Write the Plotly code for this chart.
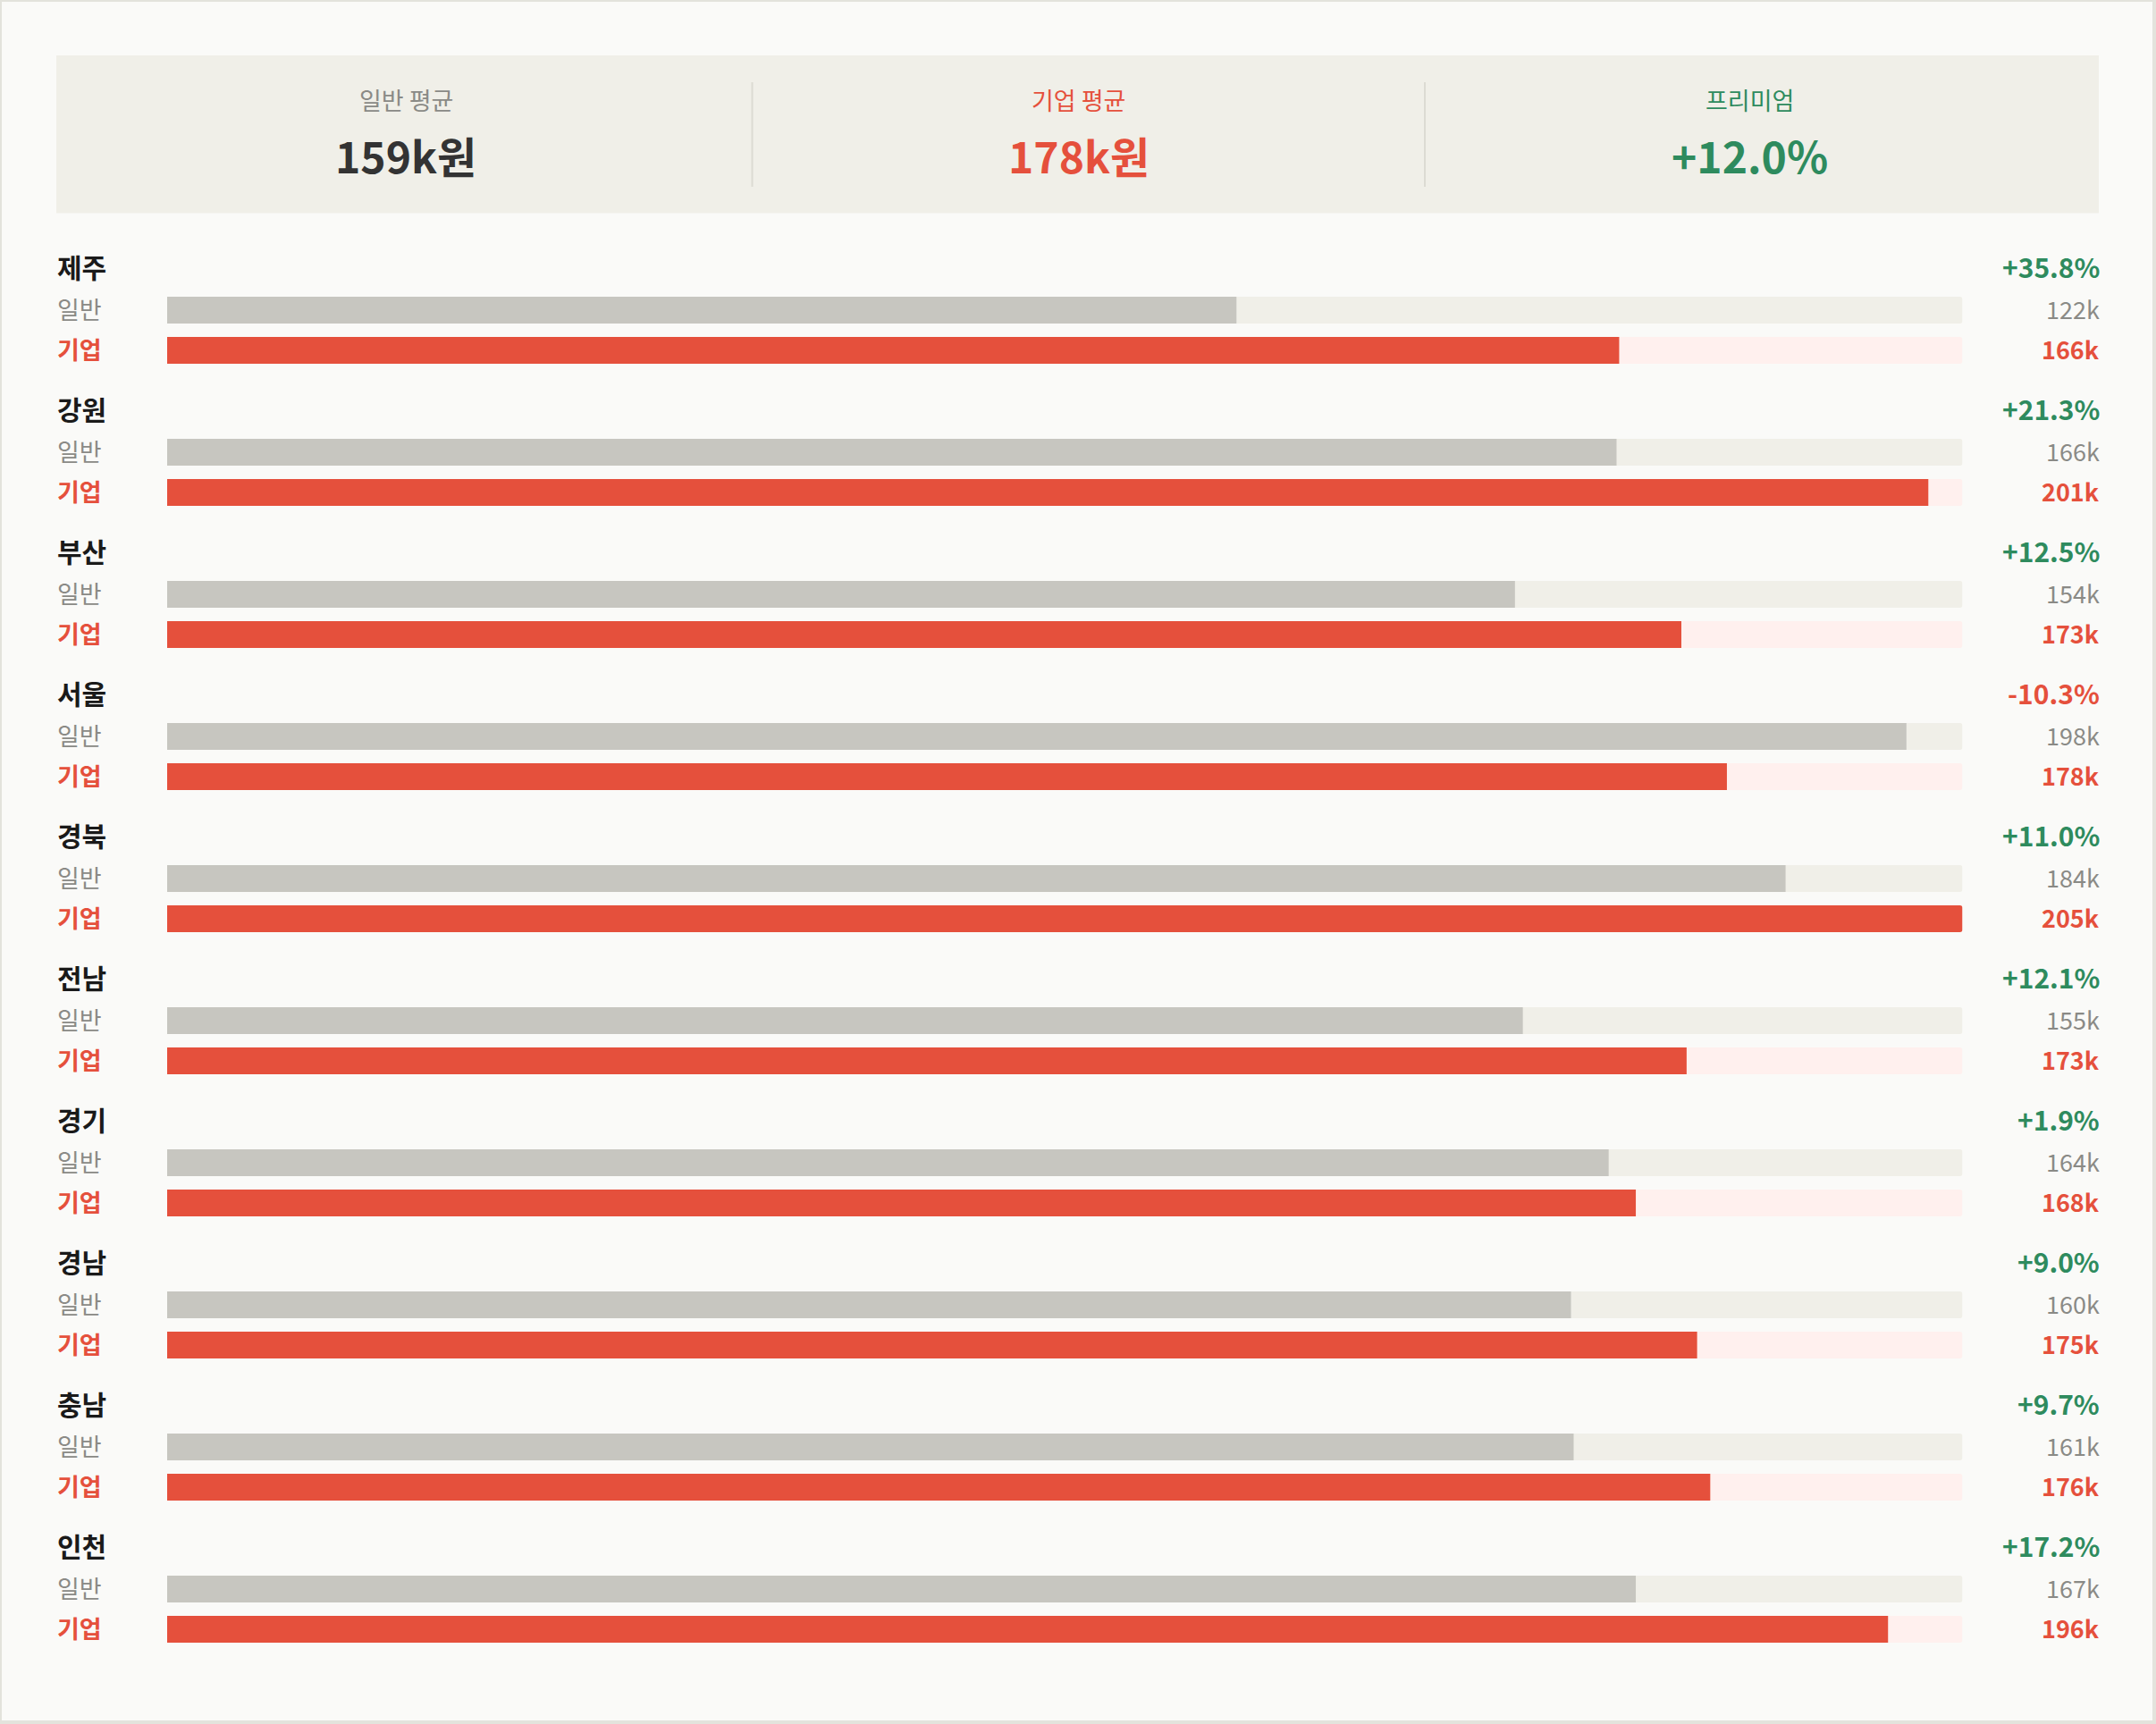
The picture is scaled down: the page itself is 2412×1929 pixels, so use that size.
import plotly.graph_objects as go

# ---------------- data ----------------
regions = ["제주", "강원", "부산", "서울", "경북", "전남", "경기", "경남", "충남", "인천"]
general = [122.1, 165.5, 153.9, 198.6, 184.8, 154.8, 164.6, 160.3, 160.6, 167.7]      # 일반 (k원)
corporate = [165.8, 201.1, 172.9, 178.1, 205.0, 173.5, 167.7, 174.7, 176.2, 196.5]    # 기업 (k원)
general_labels = ["122k", "166k", "154k", "198k", "184k", "155k", "164k", "160k", "161k", "167k"]
corporate_labels = ["166k", "201k", "173k", "178k", "205k", "173k", "168k", "175k", "176k", "196k"]
premium = [35.8, 21.3, 12.5, -10.3, 11.0, 12.1, 1.9, 9.0, 9.7, 17.2]  # %
avg_general = 159
avg_corporate = 178
avg_premium = 12.0

# ---------------- style / layout constants ----------------
W, H = 2412, 1929
FONT = "Noto Sans CJK KR"
BG = "#fafaf8"
BORDER = "#e3e3dc"
BOX = "#f0efe8"
DIVIDER = "#dcdbd3"
GRAY_BAR = "#c7c6c0"
GRAY_TRACK = "#f0efe8"
RED = "#e5503c"
RED_TRACK = "#fff0ee"
GREEN = "#2e8b5e"
GRAY_TXT = "#8a8a86"
DARK = "#1a1a1a"

ROW0, ROW_H = 300, 159
OFF_G, OFF_C, BAR_H = 47, 92, 30
TRACK_L, TRACK_R = 187, 2195.5
LEFT_X, RIGHT_X = 63, 2348

n = len(regions)
scale_max = max(general + corporate)
y_name = list(range(n))
y_gen = [i + OFF_G / ROW_H for i in range(n)]
y_corp = [i + OFF_C / ROW_H for i in range(n)]
bw = BAR_H / ROW_H


def px(x):
    return x / W


def py(y):
    return 1 - y / H


fig = go.Figure()


def bars(vals, ys, color):
    fig.add_trace(go.Bar(
        x=vals, y=ys, orientation="h", width=[bw] * len(vals),
        marker=dict(color=color, line=dict(width=0)),
        hoverinfo="skip", showlegend=False,
    ))


bars([scale_max] * n, y_gen, GRAY_TRACK)
bars([scale_max] * n, y_corp, RED_TRACK)
bars(general, y_gen, GRAY_BAR)
bars(corporate, y_corp, RED)

ann = []


def text(x, y, s, size, color, weight=400, xanchor="left", yref="y", yshift=2):
    xs = {"left": -1, "right": 3, "center": 0}[xanchor]
    ann.append(dict(
        x=x, y=y, xref="paper", yref=yref, text=s, showarrow=False,
        xanchor=xanchor, yanchor="middle", xshift=xs, yshift=yshift,
        font=dict(family=FONT, size=size, color=color, weight=weight),
    ))


for i, r in enumerate(regions):
    text(px(LEFT_X), y_name[i], r, 30, DARK, 700)
    text(px(LEFT_X), y_gen[i], "일반", 27, GRAY_TXT, 400)
    text(px(LEFT_X), y_corp[i], "기업", 27, RED, 700)
    p = premium[i]
    text(px(RIGHT_X), y_name[i], f"{p:+.1f}%", 30, GREEN if p >= 0 else RED, 700, "right")
    text(px(RIGHT_X), y_gen[i], general_labels[i], 27, GRAY_TXT, 400, "right")
    text(px(RIGHT_X), y_corp[i], corporate_labels[i], 27, RED, 700, "right")

# header summary
cols = [
    (454, "일반 평균", f"{avg_general}k원", GRAY_TXT, "#333333"),
    (1206.5, "기업 평균", f"{avg_corporate}k원", RED, RED),
    (1957, "프리미엄", f"{avg_premium:+.1f}%", GREEN, GREEN),
]
for cx, lab, val, lc, vc in cols:
    text(px(cx), py(111), lab, 27, lc, 400, "center", "paper", 0)
    text(px(cx), py(176), val, 48, vc, 700, "center", "paper", 3)

shapes = [
    dict(type="rect", xref="paper", yref="paper", x0=px(2), x1=px(2408), y0=py(1925), y1=py(2),
         fillcolor=BG, line=dict(width=0), layer="below"),
    dict(type="rect", xref="paper", yref="paper", x0=px(63), x1=px(2348), y0=py(238.5), y1=py(62),
         fillcolor=BOX, line=dict(width=0), layer="below"),
]
for dx in (841.5, 1594):
    shapes.append(dict(type="line", xref="paper", yref="paper", x0=px(dx), x1=px(dx),
                       y0=py(209), y1=py(92), line=dict(color=DIVIDER, width=2), layer="below"))

fig.update_layout(
    width=W, height=H, autosize=False,
    margin=dict(l=0, r=0, t=0, b=0, pad=0),
    paper_bgcolor=BORDER, plot_bgcolor="rgba(0,0,0,0)",
    barmode="overlay", barcornerradius=3,
    xaxis=dict(domain=[px(TRACK_L), px(TRACK_R)], range=[0, scale_max], visible=False,
               showgrid=False, zeroline=False, fixedrange=True),
    yaxis=dict(domain=[0, 1], range=[(H - ROW0) / ROW_H, -ROW0 / ROW_H], visible=False,
               showgrid=False, zeroline=False, autorange=False, fixedrange=True),
    annotations=ann, shapes=shapes,
    font=dict(family=FONT),
)

fig.write_html("out.html", config={"displayModeBar": False})
